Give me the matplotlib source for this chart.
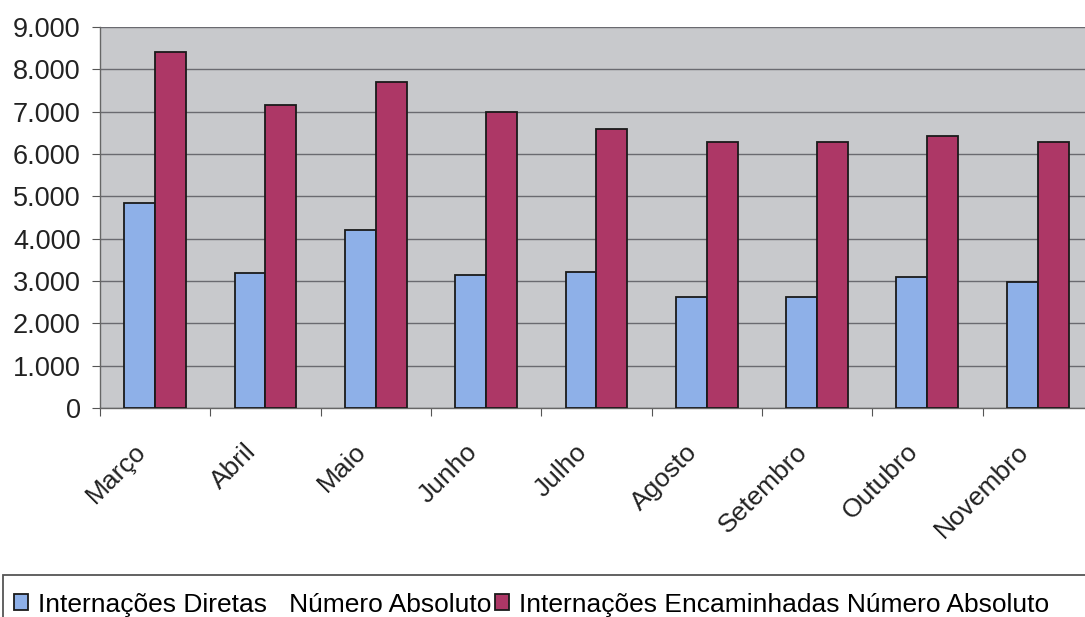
import numpy as np
import matplotlib
matplotlib.use('Agg')
import matplotlib.pyplot as plt
import matplotlib.transforms as mtransforms
from matplotlib.patches import Rectangle
from matplotlib.ticker import FuncFormatter

plt.rcParams['font.family'] = ['Liberation Sans', 'DejaVu Sans']

meses = ['Março', 'Abril', 'Maio', 'Junho', 'Julho', 'Agosto', 'Setembro', 'Outubro', 'Novembro']
diretas = [4850, 3200, 4200, 3140, 3210, 2630, 2630, 3090, 2970]
encaminhadas = [8400, 7150, 7710, 6990, 6590, 6290, 6290, 6430, 6290]
label_diretas = 'Internações Diretas   Número Absoluto'
label_encam = 'Internações Encaminhadas Número Absoluto'

fig = plt.figure(figsize=(10.85, 6.17), dpi=100)
fig.patch.set_facecolor('white')
ax = fig.add_axes([0.0922, 0.3387, 0.915, 0.6175])
ax.set_facecolor('#c8c9cc')

x = np.arange(len(meses))
w = 0.28
b1 = ax.bar(x - w / 2, diretas, w, color='#8eb0e8', edgecolor='#1a1a1a', linewidth=1.3,
            label=label_diretas, zorder=3)
b2 = ax.bar(x + w / 2, encaminhadas, w, color='#ad3766', edgecolor='#1a1a1a', linewidth=1.3,
            label=label_encam, zorder=3)

ax.set_xlim(-0.5, len(meses) - 0.5)
ax.set_ylim(0, 9000)
ax.set_yticks(np.arange(0, 9001, 1000))
ax.yaxis.set_major_formatter(FuncFormatter(lambda v, p: f'{int(v):,}'.replace(',', '.')))
ax.grid(axis='y', color='#6a6a70', linewidth=1.0, zorder=1)
ax.set_axisbelow(True)

# category boundaries as ticks, month names as rotated texts
ax.set_xticks(np.arange(-0.5, len(meses), 1.0))
ax.set_xticklabels([])
ax.tick_params(axis='x', length=6, color='#555555', direction='out')
ax.tick_params(axis='y', length=6, color='#555555', labelsize=19.5, labelcolor='#222222', pad=8)

lbl_trans = ax.get_xaxis_transform() + mtransforms.ScaledTranslation(-0.13, -0.40, fig.dpi_scale_trans)
for i, m in enumerate(meses):
    ax.text(x[i], 0, m, transform=lbl_trans, rotation=45, ha='right', va='center',
            rotation_mode='anchor', fontsize=19, color='#222222')

for s in ['top', 'right']:
    ax.spines[s].set_visible(False)
for s in ['left', 'bottom']:
    ax.spines[s].set_color('#666666')
    ax.spines[s].set_linewidth(1.0)

# legend box runs off the right and bottom edge
fig.patches.append(Rectangle((0.003, -0.1), 1.1, 0.1 + (617 - 575) / 617, transform=fig.transFigure,
                             facecolor='white', edgecolor='#555555', linewidth=1.3, zorder=0))
leg = fig.legend(handles=[b1, b2], loc='upper left', bbox_to_anchor=(0.003, 1 - 582 / 617),
                 ncol=2, frameon=False, fontsize=19, handlelength=0.55, handleheight=0.55,
                 handletextpad=0.35, columnspacing=0.15, borderaxespad=0, borderpad=0.4)

fig.savefig('out.png', dpi=100)
